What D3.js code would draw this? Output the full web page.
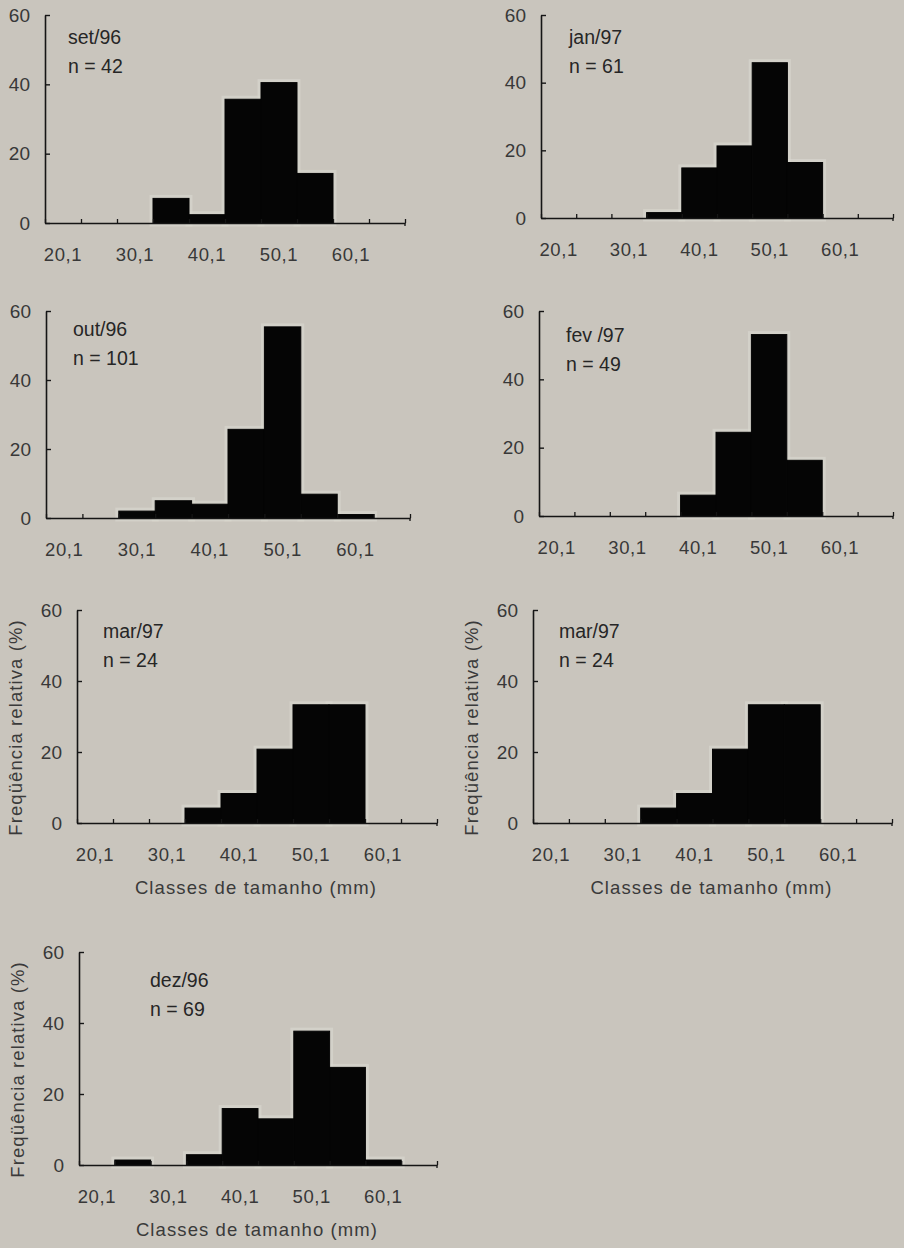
<!DOCTYPE html>
<html>
<head>
<meta charset="utf-8">
<script src="https://cdn.jsdelivr.net/npm/d3@7"></script>
<style>
  html, body { margin: 0; padding: 0; background: #c9c5bd; }
  svg { display: block; font-family: "Liberation Sans", Arial, sans-serif; }
</style>
</head>
<body>
<script>
// size classes (mm), one bar per class
const classes = ["20,1", "25,1", "30,1", "35,1", "40,1", "45,1", "50,1", "55,1", "60,1", "65,1"]
const xTickLabels = ["20,1", "30,1", "40,1", "50,1", "60,1"]
const yTicks = [0, 20, 40, 60]

const months = ["set/96", "jan/97", "out/96", "fev /97", "mar/97", "mar/97", "dez/96"]
const sizes = [42, 61, 101, 49, 24, 24, 69]

// relative frequency (%) per class
const set96 = [0, 0, 0, 7.1, 2.4, 35.7, 40.5, 14.3, 0, 0]
const jan97 = [0, 0, 0, 1.6, 14.8, 21.3, 45.9, 16.4, 0, 0]
const out96 = [0, 0, 2.0, 5.0, 4.0, 25.7, 55.4, 6.9, 1.0, 0]
const fev97 = [0, 0, 0, 0, 6.1, 24.5, 53.1, 16.3, 0, 0]
const mar97 = [0, 0, 0, 4.2, 8.3, 20.8, 33.3, 33.3, 0, 0]
const dez96 = [0, 1.4, 0, 2.9, 15.9, 13.0, 37.7, 27.5, 1.4, 0]

const series = [set96, jan97, out96, fev97, mar97, mar97, dez96]

const xTitle = "Classes de tamanho (mm)"
const yTitle = "Freqüência relativa (%)"

// where each panel sits on the page
const panels = [
  { left: 45, right: 405, top: 15, bottom: 223, nx: 23, ny: 29, titles: false },
  { left: 541, right: 893, top: 15, bottom: 218, nx: 28, ny: 29, titles: false },
  { left: 46, right: 410, top: 311, bottom: 518, nx: 27, ny: 25, titles: false },
  { left: 539, right: 893, top: 311, bottom: 516, nx: 27, ny: 31, titles: false },
  { left: 77, right: 437, top: 610, bottom: 823, nx: 26, ny: 28, titles: true },
  { left: 533, right: 892, top: 610, bottom: 823, nx: 26, ny: 28, titles: true },
  { left: 79, right: 437, top: 952, bottom: 1165, nx: 71, ny: 35, titles: true }
]

const width = 904
const height = 1248

const svg = d3.select("body").append("svg")
  .attr("width", width)
  .attr("height", height)

panels.forEach(function (p, i) {
  const values = series[i]
  const g = svg.append("g")

  const x = d3.scaleBand().domain(classes).range([p.left, p.right]).paddingInner(0).paddingOuter(0)
  const xEdge = d3.scaleLinear().domain([0, classes.length]).range([p.left, p.right])
  const y = d3.scaleLinear().domain([0, 60]).range([p.bottom, p.top])

  const bars = classes.map(function (c, k) { return { c: c, v: values[k] } }).filter(function (d) { return d.v > 0 })

  // pale halo from the scan
  g.append("g").selectAll("rect").data(bars).enter()
    .append("rect")
    .attr("x", function (d) { return x(d.c) })
    .attr("y", function (d) { return y(d.v) })
    .attr("width", x.bandwidth())
    .attr("height", function (d) { return y(0) - y(d.v) })
    .attr("fill", "none")
    .attr("stroke", "#dad8d1")
    .attr("stroke-width", 7)
    .attr("opacity", 0.6)

  g.append("g").selectAll("rect").data(bars).enter()
    .append("rect")
    .attr("x", function (d) { return x(d.c) })
    .attr("y", function (d) { return y(d.v) })
    .attr("width", x.bandwidth())
    .attr("height", function (d) { return y(0) - y(d.v) })
    .attr("fill", "#050505")
    .attr("stroke", "#050505")
    .attr("stroke-width", 1)

  // y axis, ticks pointing inward
  const yAxis = g.append("g")
    .attr("transform", "translate(" + p.left + ",0)")
    .call(d3.axisLeft(y).tickValues(yTicks).tickSizeInner(-5).tickSizeOuter(0).tickPadding(15))
  yAxis.select(".domain").attr("stroke", "#151515").attr("stroke-width", 1.6)
  yAxis.selectAll(".tick line").attr("stroke", "#151515").attr("stroke-width", 1.4)
  yAxis.selectAll(".tick text")
    .attr("font-size", 19)
    .attr("fill", "#383838")
    .attr("font-family", "Liberation Sans, Arial, sans-serif")

  // x axis line with boundary ticks
  const xAxis = g.append("g")
    .attr("transform", "translate(0," + p.bottom + ")")
    .call(d3.axisBottom(xEdge).tickValues(d3.range(0, classes.length + 1)).tickSizeInner(-4).tickSizeOuter(0).tickFormat(""))
  xAxis.select(".domain").attr("stroke", "#151515").attr("stroke-width", 1.6)
  xAxis.selectAll(".tick line").attr("stroke", "#151515").attr("stroke-width", 1.3)
  xAxis.append("line")
    .attr("x1", p.right).attr("x2", p.right)
    .attr("y1", 0).attr("y2", 3)
    .attr("stroke", "#151515").attr("stroke-width", 1.3)

  // class labels under every other bin
  const xLab = g.append("g")
    .attr("transform", "translate(0," + p.bottom + ")")
    .call(d3.axisBottom(x).tickValues(xTickLabels).tickSize(0).tickPadding(25))
  xLab.select(".domain").remove()
  xLab.selectAll(".tick text")
    .attr("font-size", 18.5)
    .attr("fill", "#383838")
    .attr("font-family", "Liberation Sans, Arial, sans-serif")
    .attr("letter-spacing", 0.6)

  // month and sample size
  g.append("text")
    .attr("x", p.left + p.nx)
    .attr("y", p.top + p.ny)
    .attr("font-size", 19.5)
    .attr("fill", "#262626")
    .text(months[i])
  g.append("text")
    .attr("x", p.left + p.nx)
    .attr("y", p.top + p.ny + 29)
    .attr("font-size", 19.5)
    .attr("fill", "#262626")
    .text("n = " + sizes[i])

  if (p.titles) {
    g.append("text")
      .attr("x", (p.left + p.right) / 2 - 1)
      .attr("y", p.bottom + 71)
      .attr("text-anchor", "middle")
      .attr("font-size", 18.5)
      .attr("letter-spacing", 1.1)
      .attr("fill", "#3a3a3a")
      .text(xTitle)
    g.append("text")
      .attr("transform", "translate(" + (p.left - 55) + "," + ((p.top + p.bottom) / 2 + 11) + ") rotate(-90)")
      .attr("text-anchor", "middle")
      .attr("font-size", 18.5)
      .attr("letter-spacing", 1.1)
      .attr("fill", "#3a3a3a")
      .text(yTitle)
  }
})
</script>
</body>
</html>
